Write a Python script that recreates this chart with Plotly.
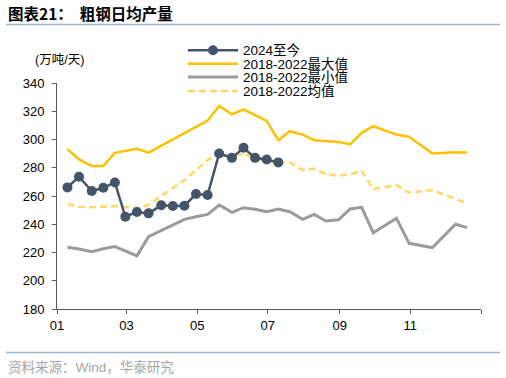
import plotly.graph_objects as go

# ---------------- data ----------------
d2024 = ["2024-01-10", "2024-01-20", "2024-01-31", "2024-02-10", "2024-02-20", "2024-02-29",
         "2024-03-10", "2024-03-20", "2024-03-31", "2024-04-10", "2024-04-20", "2024-04-30",
         "2024-05-10", "2024-05-20", "2024-05-31", "2024-06-10", "2024-06-20", "2024-06-30",
         "2024-07-10"]
v2024 = [266.1, 273.6, 263.5, 265.8, 269.6, 245.3, 248.7, 247.7, 253.4, 252.9, 253.1, 261.4,
         260.7, 290.1, 287.0, 294.1, 287.0, 285.9, 283.8]

d_max = ["2024-01-10", "2024-01-20", "2024-01-31", "2024-02-10", "2024-02-20", "2024-03-10",
         "2024-03-20", "2024-05-10", "2024-05-20", "2024-05-31", "2024-06-10", "2024-06-20",
         "2024-06-30", "2024-07-10", "2024-07-20", "2024-07-31", "2024-08-10", "2024-08-31",
         "2024-09-10", "2024-09-20", "2024-09-30", "2024-10-20", "2024-10-31", "2024-11-20",
         "2024-12-10", "2024-12-20"]
v_max = [293.2, 285.9, 281.2, 281.2, 290.6, 293.4, 290.7, 313.4, 323.8, 317.8, 321.4, 317.2,
         313.2, 299.5, 305.9, 303.5, 299.5, 298.3, 296.5, 304.7, 309.4, 303.5, 301.9, 290.1,
         291.0, 290.8]

d_min = ["2024-01-10", "2024-01-20", "2024-01-31", "2024-02-10", "2024-02-20", "2024-03-10",
         "2024-03-20", "2024-04-20", "2024-04-30", "2024-05-10", "2024-05-20", "2024-05-31",
         "2024-06-10", "2024-06-20", "2024-06-30", "2024-07-10", "2024-07-20", "2024-07-31",
         "2024-08-10", "2024-08-20", "2024-08-31", "2024-09-10", "2024-09-20", "2024-09-30",
         "2024-10-20", "2024-10-31", "2024-11-20", "2024-12-10", "2024-12-20"]
v_min = [223.7, 222.5, 220.6, 222.7, 224.2, 217.6, 231.2, 243.5, 245.3, 247.0, 253.6, 248.4,
         251.7, 250.6, 248.9, 250.8, 248.9, 243.5, 247.0, 242.3, 243.2, 250.8, 252.0, 234.0,
         244.2, 226.5, 223.4, 240.0, 237.6]

d_mean = ["2024-01-10", "2024-01-20", "2024-01-31", "2024-02-10", "2024-02-20", "2024-03-10",
          "2024-03-20", "2024-03-31", "2024-04-10", "2024-04-20", "2024-04-30", "2024-05-10",
          "2024-05-20", "2024-05-31", "2024-06-10", "2024-06-20", "2024-06-30", "2024-07-10",
          "2024-07-20", "2024-07-31", "2024-08-10", "2024-08-20", "2024-08-31", "2024-09-10",
          "2024-09-20", "2024-09-30", "2024-10-20", "2024-10-31", "2024-11-20", "2024-12-10",
          "2024-12-20"]
v_mean = [254.3, 252.4, 252.0, 252.4, 252.9, 251.3, 253.6, 260.0, 265.6, 271.2, 278.3, 285.4,
          290.3, 287.7, 290.1, 286.6, 284.9, 283.5, 283.8, 278.3, 279.5, 275.5, 274.3, 275.3,
          277.8, 264.9, 267.7, 262.3, 264.2, 257.6, 254.8]

names = ["2024至今", "2018-2022最大值", "2018-2022最小值", "2018-2022均值"]
xtick_vals = ["2024-01-01", "2024-03-01", "2024-05-01", "2024-07-01", "2024-09-01",
              "2024-11-01", "2025-01-01"]
xtick_text = ["01", "03", "05", "07", "09", "11", ""]

# ---------------- figure ----------------
FONT = "Liberation Sans, Arial, Noto Sans CJK SC, sans-serif"
W, H = 506, 378
L, R, T, B = 57, 25, 82.7, 68.7
pw, ph = W - L - R, H - T - B


def px_x(p):
    return (p - L) / pw


def px_y(p):
    return (H - B - p) / ph


fig = go.Figure()
fig.add_trace(go.Scatter(x=d_max, y=v_max, name=names[1], mode="lines",
                         line=dict(color="#FFC000", width=2.5), legend="legend2"))
fig.add_trace(go.Scatter(x=d_min, y=v_min, name=names[2], mode="lines",
                         line=dict(color="#9B9B9B", width=3), legend="legend3"))
fig.add_trace(go.Scatter(x=d_mean, y=v_mean, name=names[3], mode="lines",
                         line=dict(color="#FFD966", width=2.5, dash="7px,4px"), legend="legend4"))
fig.add_trace(go.Scatter(x=d2024, y=v2024, name=names[0], mode="lines+markers",
                         line=dict(color="#44546A", width=2.5),
                         marker=dict(color="#44546A", size=10), legend="legend",
                         showlegend=True))

leg_common = dict(x=px_x(183), xanchor="left", yanchor="middle", bgcolor="rgba(0,0,0,0)",
                  font=dict(family=FONT, size=13.5, color="#000000"), itemwidth=50,
                  orientation="v")
fig.update_layout(
    showlegend=True,
    legend=dict(y=px_y(50), **leg_common),
    legend2=dict(y=px_y(63.5), **leg_common),
    legend3=dict(y=px_y(77), **leg_common),
    legend4=dict(y=px_y(91), **leg_common),
)

fig.update_layout(
    width=W, height=H,
    margin=dict(l=L, r=R, t=T, b=B, autoexpand=False),
    paper_bgcolor="white", plot_bgcolor="white",
    font=dict(family=FONT, size=13, color="#000000"),
    xaxis=dict(type="date", range=["2024-01-01", "2025-01-01"],
               tickmode="array", tickvals=xtick_vals, ticktext=xtick_text,
               showgrid=False, zeroline=False, showline=True, linecolor="#595959",
               linewidth=1, ticks="outside", ticklen=4, tickcolor="#595959",
               tickfont=dict(size=13)),
    yaxis=dict(range=[180, 340], dtick=20, showgrid=False, zeroline=False,
               showline=True, linecolor="#595959", linewidth=1, ticks="outside",
               ticklen=4, tickcolor="#595959", tickfont=dict(size=13),
               ticklabelstandoff=5),
)

# title, unit, source and separator lines
fig.add_annotation(text="<b>图表21：  粗钢日均产量</b>", xref="paper", yref="paper",
                   x=px_x(6), y=px_y(13), xanchor="left", yanchor="middle", showarrow=False,
                   font=dict(family="Noto Sans CJK SC, sans-serif", size=15.5, color="#000000"))
fig.add_annotation(text="(万吨/天)", xref="paper", yref="paper",
                   x=px_x(33), y=px_y(60), xanchor="left", yanchor="middle", showarrow=False,
                   font=dict(family=FONT, size=12.5, color="#000000"))
fig.add_annotation(text="资料来源：Wind，华泰研究", xref="paper", yref="paper",
                   x=px_x(6), y=px_y(368), xanchor="left", yanchor="middle", showarrow=False,
                   font=dict(family=FONT, size=13.5, color="#A6A6A6"))
fig.add_shape(type="line", xref="paper", yref="paper", x0=px_x(6), x1=px_x(500),
              y0=px_y(24), y1=px_y(24), line=dict(color="#9DB3CF", width=1.5))
fig.add_shape(type="line", xref="paper", yref="paper", x0=px_x(6), x1=px_x(500),
              y0=px_y(353), y1=px_y(353), line=dict(color="#9DB3CF", width=1.5))

fig.write_html("out.html", config={"displayModeBar": False},
               post_script="document.body.style.margin='0px';")
